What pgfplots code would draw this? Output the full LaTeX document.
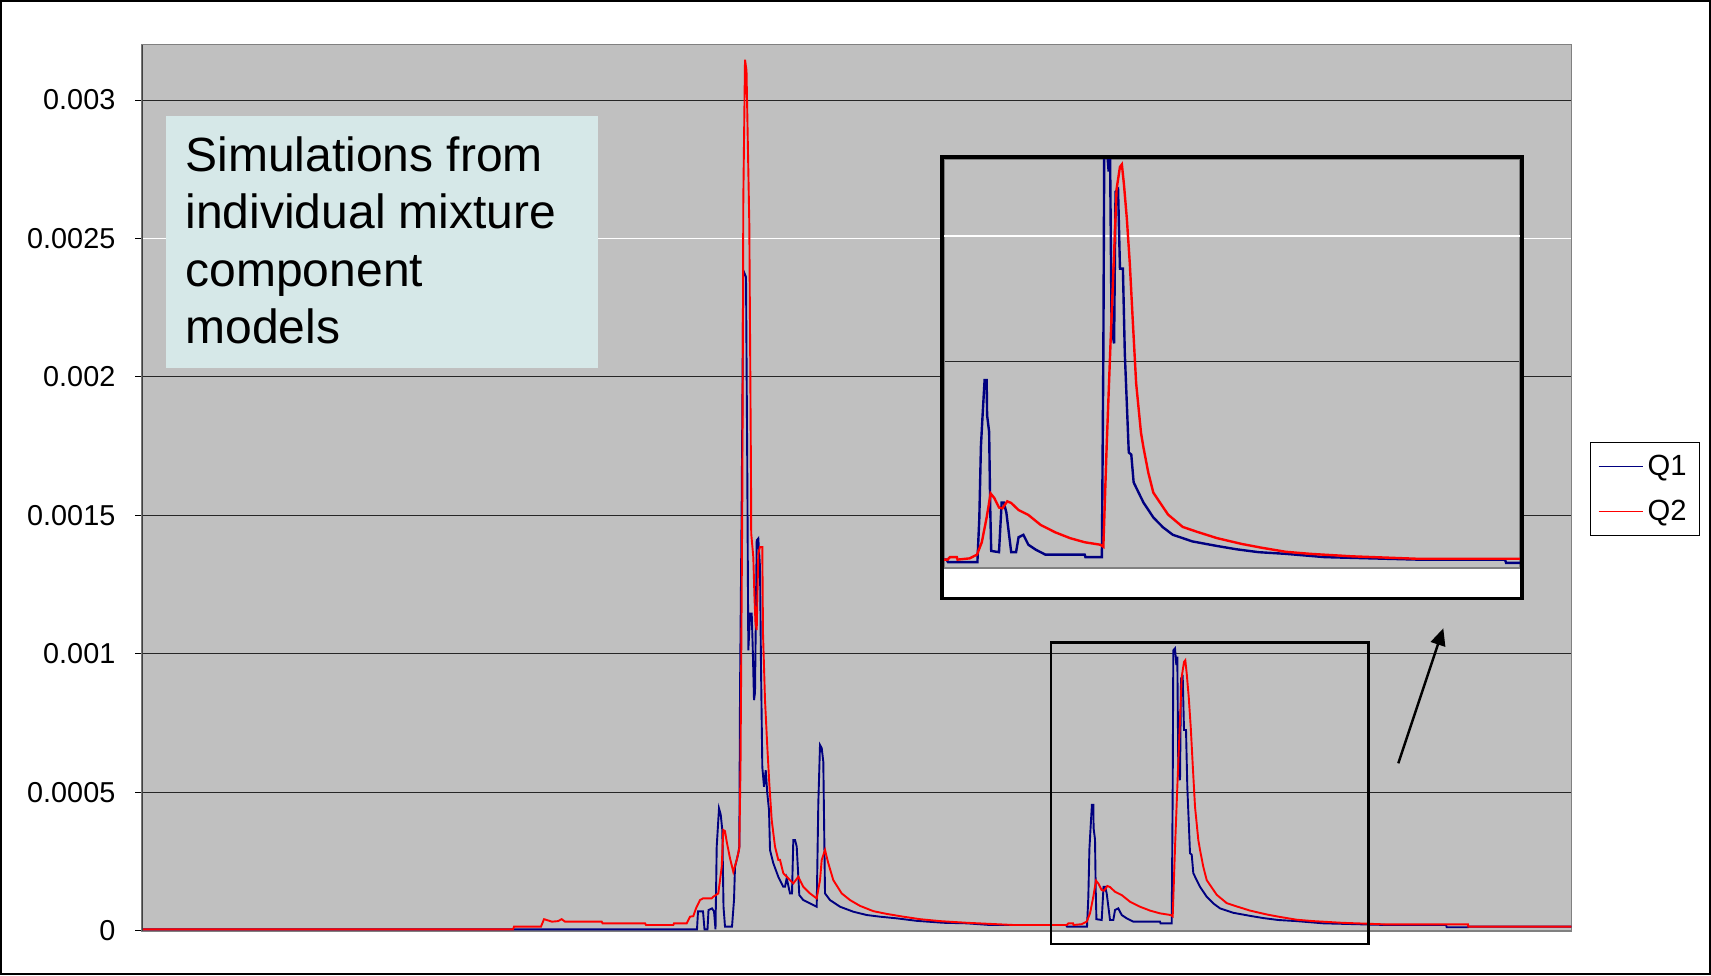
\documentclass[border=0pt]{standalone}
\usepackage{pgfplots}
\pgfplotsset{compat=1.18}
\usepackage{pgfplotstable}
\usepackage{fontspec}
\setmainfont{Liberation Sans}
\usetikzlibrary{arrows.meta}
\definecolor{plotgray}{RGB}{192,192,192}
\definecolor{qblue}{RGB}{0,0,128}
\definecolor{qred}{RGB}{255,0,0}
\definecolor{boxcol}{RGB}{214,232,232}
\definecolor{framegray}{RGB}{128,128,128}

\pgfplotstableread{
x y
142 0.000005
697 0.000005
698 0.00007
703 0.00007
704.5 0.000005
707.5 0.000005
708.5 0.000075
712 0.000081
714 0.00007
715.5 0.000005
716.7 0.000304
719 0.000442
720.7 0.00042
722.3 0.000364
723.5 0.000087
725 0.000015
732 0.000015
734 0.000111
735 0.000231
736.7 0.000256
738.3 0.00028
739.3 0.000304
740 0.000857
741.7 0.001555
743.3 0.002385
745 0.00237
746 0.002361
747.2 0.00171
748.3 0.001013
749.5 0.0011
750.3 0.001146
751.7 0.001146
752.7 0.001025
754 0.000833
755 0.00086
756.7 0.00141
758.3 0.001417
760 0.001314
761 0.000953
762.3 0.000592
764 0.00052
765.7 0.00058
767.3 0.000496
769 0.000436
770 0.000292
773.3 0.000244
778.3 0.000195
783.3 0.000159
785 0.000159
786.7 0.00019
790 0.000135
792 0.000135
793.3 0.000328
795 0.000328
796.7 0.000304
799.3 0.000129
803.3 0.000111
810 0.000099
816.7 0.000087
818.3 0.00046
820 0.000671
821.7 0.00066
823.3 0.00061
825 0.000135
830 0.000111
840 0.000087
853.3 0.000069
866.7 0.000057
880 0.000051
896.7 0.000045
916.7 0.000036
943.3 0.000029
966.7 0.000027
990 0.000021
1066 0.000021
1067 0.000015
1087 0.000015
1088.3 0.00012
1089.4 0.000295
1090.5 0.000368
1091.9 0.000455
1093.3 0.000455
1093.6 0.00037
1095 0.00033
1095.7 0.00015
1096.4 0.000042
1101.7 0.000039
1103.5 0.000159
1105 0.000159
1106.7 0.000135
1110 0.000039
1113.3 0.000039
1115 0.000075
1118.3 0.000081
1121.7 0.000057
1126.7 0.000045
1133.3 0.000033
1160 0.000033
1160.5 0.000027
1171.7 0.000027
1172.7 0.00052
1173.3 0.001013
1175 0.00102
1176.3 0.00096
1177.3 0.00099
1178.3 0.00058
1180 0.000544
1181 0.000911
1182.7 0.000917
1184 0.000725
1186 0.000725
1187.3 0.00052
1190 0.00028
1191.7 0.000275
1193.3 0.000208
1196.7 0.000183
1200 0.000159
1206.7 0.000123
1213.3 0.000099
1220 0.000081
1233.3 0.000065
1250 0.000054
1263.3 0.000046
1278.3 0.000039
1296.7 0.000035
1323.3 0.000027
1386.7 0.000021
1446 0.000021
1446.7 0.000013
1468 0.000013
1468.3 0.000015
1571.3 0.000015
}\qone

\pgfplotstableread{
x y
142 0.000005
513 0.000005
514 0.000015
541 0.000015
544 0.000042
552 0.000033
558 0.000035
561.7 0.000042
565 0.000033
601.7 0.000033
602.5 0.000027
645 0.000027
646 0.000021
673.3 0.000021
674 0.000027
686.7 0.000027
690 0.000051
693.3 0.000053
696 0.000081
700 0.000111
703 0.000117
711.7 0.000117
713.3 0.000123
718.3 0.000135
721.7 0.000231
723.3 0.000364
725 0.00036
726.7 0.000322
730 0.000262
733.3 0.000213
736.7 0.000256
739.3 0.000298
740.5 0.000592
742.3 0.001555
743.3 0.00264
745 0.003146
746.5 0.003107
749.3 0.002553
751 0.001639
751.2 0.001435
753.3 0.00135
754.5 0.0012
755.5 0.00111
756.7 0.001086
758.3 0.001362
760 0.001386
762.3 0.001386
763 0.001074
765 0.000833
767.3 0.000664
769.3 0.000532
771.7 0.0004
775 0.000304
778.3 0.000256
780 0.000256
783.3 0.000208
790 0.000183
793.3 0.000171
798.3 0.000195
803.3 0.000159
810 0.000135
816.7 0.000117
820 0.000183
821.7 0.000256
825 0.000292
828.3 0.000244
833.3 0.000183
841.7 0.000135
850 0.000111
860 0.00009
873.3 0.000071
886.7 0.000061
903.3 0.000051
920 0.000042
940 0.000035
966.7 0.000029
990 0.000025
1013.3 0.000021
1066.7 0.000021
1068.3 0.000027
1073 0.000027
1073.5 0.000021
1081.7 0.000024
1086.7 0.000033
1090 0.000063
1093.3 0.000123
1096 0.000181
1098.5 0.00017
1101.7 0.000147
1104 0.000145
1107.3 0.000162
1110 0.000158
1115 0.000141
1121.7 0.000129
1130 0.000105
1140 0.000087
1150 0.000073
1160 0.000063
1170.7 0.000057
1172.7 0.000052
1175 0.0003
1177.7 0.000556
1180 0.000761
1181.7 0.000917
1184 0.000971
1185.3 0.000977
1186.7 0.000929
1188.7 0.000845
1190.7 0.000737
1192.7 0.000600
1195 0.000448
1198.3 0.000328
1200 0.000292
1203.3 0.000231
1206.7 0.000183
1216.7 0.00013
1226.7 0.0001
1236.7 0.000088
1250 0.000073
1266.7 0.000059
1280 0.00005
1296.7 0.00004
1313.3 0.000035
1341.7 0.000029
1386.7 0.000023
1468 0.000023
1468.3 0.000015
1571.3 0.000015
}\qtwo

\begin{document}
\begin{tikzpicture}
\useasboundingbox (0,0) rectangle (855.5pt,487.5pt);
\fill[white] (0,0) rectangle (855.5pt,487.5pt);
\draw[black, line width=1pt] (0.5pt,0.5pt) rectangle (855pt,487pt);

\begin{axis}[
  at={(70.95pt,22.1pt)}, anchor=south west,
  width=714.7pt, height=443.05pt, scale only axis,
  xmin=141.9, xmax=1571.3, ymin=0, ymax=0.0032,
  axis background/.style={fill=plotgray},
  axis line style={draw=framegray, line width=0.8pt},
  xtick=\empty,
  ytick={0,0.0005,0.001,0.0015,0.002,0.0025,0.003},
  yticklabels={0,0.0005,0.001,0.0015,0.002,0.0025,0.003},
  scaled y ticks=false,
  ytick pos=left, tick align=outside, major tick length=3.25pt,
  ytick style={black, line width=0.5pt},
  yticklabel style={font=\fontsize{14.4}{16}\selectfont, anchor=east, inner sep=0pt, xshift=-9.85pt},
  ymajorgrids, major grid style={black!85, line width=0.5pt},
  legend style={at={(1.0128,0.5513)}, anchor=north west, draw=black, line width=0.5pt, fill=white,
    font=\fontsize{14.6}{16}\selectfont, inner xsep=4pt, inner ysep=4pt, row sep=7pt,
    nodes={inner xsep=2.2pt, inner ysep=2pt}, cells={anchor=west}},
  legend image code/.code={\draw[#1, line width=0.6pt] (0pt,0pt) -- (22pt,0pt);},
]
\draw[white, line width=0.6pt] (axis cs:141.9,0.0025) -- (axis cs:1571.3,0.0025);
\addplot[qblue, line width=0.95pt] table {\qone};
\addlegendentry{Q1}
\addplot[qred, line width=0.95pt] table {\qtwo};
\addlegendentry{Q2}
\draw[black!75, line width=0.8pt] (rel axis cs:0,0) -- (rel axis cs:0,1);
\end{axis}

% annotation shapes
\fill[boxcol] (83pt,303.65pt) rectangle (298.85pt,429.5pt);
\node[anchor=base west, inner sep=0pt, font=\fontsize{24}{28.7}\selectfont] at (92.6pt,401.65pt) {Simulations from};
\node[anchor=base west, inner sep=0pt, font=\fontsize{24}{28.7}\selectfont] at (92.6pt,373.35pt) {individual mixture};
\node[anchor=base west, inner sep=0pt, font=\fontsize{24}{28.7}\selectfont] at (92.6pt,344.15pt) {component};
\node[anchor=base west, inner sep=0pt, font=\fontsize{24}{28.7}\selectfont] at (92.6pt,315.5pt) {models};

\draw[black, line width=1.2pt] (525.35pt,15.5pt) rectangle (684.15pt,166.35pt);
\draw[black, line width=1.2pt, -{Triangle[length=8.5pt,width=7.5pt]}] (699.15pt,105.85pt) -- (721.65pt,173.35pt);

% inset
\fill[white] (471pt,188.25pt) rectangle (761pt,409pt);
\begin{axis}[
  at={(472pt,203.35pt)}, anchor=south west,
  width=288pt, height=204.65pt, scale only axis,
  xmin=1064.3, xmax=1456.2, ymin=0, ymax=0.00099,
  axis background/.style={fill=plotgray},
  axis line style={draw=framegray, line width=1pt},
  xtick=\empty, ytick={0.0005}, yticklabels={}, major tick length=0pt,
  scaled y ticks=false,
  ymajorgrids, major grid style={black!85, line width=0.5pt},
]
\draw[white, line width=0.6pt] (axis cs:1064.3,0.000804) -- (axis cs:1456.2,0.000804);
\addplot[qblue, line width=1.2pt] table {\qone};
\addplot[qred, line width=1.2pt] table {\qtwo};
\end{axis}
\draw[black, line width=1.7pt] (471pt,188.25pt) rectangle (761pt,409pt);
\end{tikzpicture}
\end{document}
